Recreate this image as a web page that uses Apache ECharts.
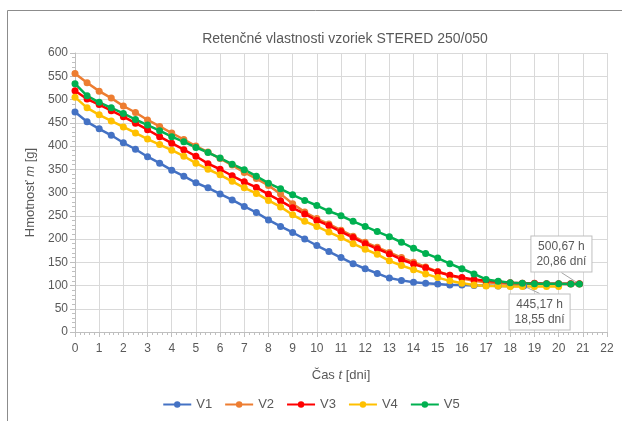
<!DOCTYPE html>
<html>
<head>
<meta charset="utf-8">
<script src="https://cdn.jsdelivr.net/npm/echarts@6/dist/echarts.min.js"></script>
<style>
	html, body { margin: 0; padding: 0; background: #fff; }
	#graf { width: 622px; height: 421px; }
</style>
</head>
<body>
<div id="graf"></div>
<script>
// cas v dnoch (meranie kazdych ~12 h)
var cas = [0, 0.5, 1, 1.5, 2, 2.5, 3, 3.5, 4, 4.5, 5, 5.5, 6, 6.5, 7, 7.5, 8, 8.5, 9, 9.5,
	10, 10.5, 11, 11.5, 12, 12.5, 13, 13.5, 14, 14.5, 15, 15.5, 16, 16.5, 17, 17.5, 18, 18.5,
	19, 19.5, 20, 20.5, 20.86];
var casV1 = [0, 0.5, 1, 1.5, 2, 2.5, 3, 3.5, 4, 4.5, 5, 5.5, 6, 6.5, 7, 7.5, 8, 8.5, 9, 9.5,
	10, 10.5, 11, 11.5, 12, 12.5, 13, 13.5, 14, 14.5, 15, 15.5, 16, 16.5, 17, 17.5, 18, 18.55];

// hmotnost vzoriek [g]
var v1 = [473, 452, 437, 423, 407, 393, 377, 363, 348, 335, 321, 310, 297, 284, 270, 257, 241, 227, 214, 200,
	186, 173, 160, 147, 136, 126, 116, 111, 107, 105, 103, 101, 101, 100, 100, 99, 99, 99];
var v2 = [556, 536, 518, 503, 486, 472, 456, 442, 428, 414, 400, 387, 373, 359, 343, 330, 315, 297, 276, 258,
	244, 232, 219, 206, 193, 182, 171, 160, 150, 140, 130, 122, 115, 110, 107, 105, 104, 104, 104, 103,
	103, 103, 103];
var v3 = [519, 501, 489, 476, 463, 449, 435, 420, 406, 392, 378, 362, 350, 336, 323, 311, 296, 282, 267, 254,
	240, 229, 216, 203, 190, 179, 168, 156, 146, 138, 129, 122, 117, 113, 110, 108, 106, 105, 105, 104,
	104, 104, 104];
var v4 = [505, 482, 467, 454, 441, 428, 415, 403, 391, 378, 363, 350, 338, 324, 310, 298, 283, 269, 252, 238,
	227, 215, 203, 190, 178, 167, 153, 143, 134, 125, 117, 110, 105, 101, 99, 99, 98, 98, 98, 98, 98];
var v5 = [534, 508, 494, 482, 470, 457, 445, 433, 420, 409, 397, 386, 374, 361, 349, 335, 320, 308, 295, 283,
	272, 260, 250, 238, 227, 216, 205, 193, 180, 169, 159, 147, 136, 125, 113, 109, 106, 105, 104, 104,
	104, 103, 103];

var nazvy = ['V1', 'V2', 'V3', 'V4', 'V5'];
var farby = ['#4472C4', '#ED7D31', '#FF0000', '#FFC000', '#00B050'];
var popisV1 = '445,17 h\n18,55 dní';
var popisV5 = '500,67 h\n20,86 dní';

var pismo = 'Liberation Sans, Arial, sans-serif';
var sedaText = '#595959';

function pary(t, v) {
	var out = [];
	for (var i = 0; i < v.length; i++) {
		out.push([t[i], v[i]]);
	}
	return out;
}

// popis posledneho bodu (ramcek s ciarou)
function popisany(data, text, pozicia) {
	var last = data.length - 1;
	data[last] = {
		value: data[last],
		label: {
			show: true,
			position: pozicia,
			formatter: text,
			color: sedaText,
			fontFamily: pismo,
			fontSize: 12,
			lineHeight: 15,
			align: 'center',
			backgroundColor: '#fff',
			borderColor: '#bfbfbf',
			borderWidth: 1,
			padding: [3, 5, 2, 5]
		},
		labelLine: {
			show: true,
			lineStyle: { color: '#a6a6a6', width: 1 }
		}
	};
	return data;
}

var d1 = popisany(pary(casV1, v1), popisV1, 'bottom');
var d5 = popisany(pary(cas, v5), popisV5, 'top');
var vsetky = [d1, pary(cas, v2), pary(cas, v3), pary(cas, v4), d5];

var series = [];
for (var i = 0; i < nazvy.length; i++) {
	var s = {
		name: nazvy[i],
		type: 'line',
		data: vsetky[i],
		symbol: 'circle',
		symbolSize: 7,
		color: farby[i],
		lineStyle: { width: 2.5 },
		label: { show: false },
		animation: false
	};
	if (i == 0) s.labelLayout = { dx: 16, dy: 0 };
	if (i == 4) s.labelLayout = { dx: -18, dy: -4 };
	series.push(s);
}

var myChart = echarts.init(document.getElementById('graf'));
var option = {
	backgroundColor: '#fff',
	animation: false,
	textStyle: { fontFamily: pismo },
	title: {
		text: 'Retenčné vlastnosti vzoriek STERED 250/050',
		left: 340,
		top: 27,
		textAlign: 'center',
		textStyle: { color: sedaText, fontSize: 14, fontWeight: 'normal', fontFamily: pismo }
	},
	graphic: [{
		type: 'rect',
		shape: { x: 7.5, y: 10.5, width: 700, height: 500 },
		style: { fill: 'none', stroke: '#8c8c8c', lineWidth: 1 },
		silent: true
	}],
	grid: { left: 75, right: 15, top: 53, bottom: 89 },
	legend: {
		data: nazvy,
		bottom: 5,
		left: 'center',
		itemWidth: 28,
		itemHeight: 8,
		itemGap: 12,
		textStyle: { color: sedaText, fontSize: 13, fontFamily: pismo }
	},
	xAxis: {
		type: 'value',
		min: 0,
		max: 22,
		interval: 1,
		name: '{n|Čas }{i|t}{n| [dni]}',
		nameLocation: 'middle',
		nameGap: 37,
		nameTextStyle: {
			rich: {
				n: { color: sedaText, fontSize: 13, fontFamily: pismo },
				i: { color: sedaText, fontSize: 13, fontFamily: pismo, fontStyle: 'italic' }
			}
		},
		axisLine: { lineStyle: { color: '#bfbfbf' } },
		axisTick: { show: true, length: 5, lineStyle: { color: '#bfbfbf' } },
		minorTick: { show: true, splitNumber: 5, length: 3, lineStyle: { color: '#bfbfbf' } },
		axisLabel: { color: sedaText, fontSize: 12, margin: 11 },
		splitLine: { show: true, lineStyle: { color: '#d9d9d9' } }
	},
	yAxis: {
		type: 'value',
		min: 0,
		max: 600,
		interval: 50,
		name: '{n|Hmotnosť }{i|m}{n| [g]}',
		nameLocation: 'middle',
		nameGap: 37,
		nameRotate: 90,
		nameTextStyle: {
			rich: {
				n: { color: sedaText, fontSize: 13, fontFamily: pismo },
				i: { color: sedaText, fontSize: 13, fontFamily: pismo, fontStyle: 'italic' }
			}
		},
		axisLine: { show: true, lineStyle: { color: '#bfbfbf' } },
		axisTick: { show: true, length: 5, lineStyle: { color: '#bfbfbf' } },
		minorTick: { show: true, splitNumber: 5, length: 3, lineStyle: { color: '#bfbfbf' } },
		axisLabel: { color: sedaText, fontSize: 12, margin: 7 },
		splitLine: { show: true, lineStyle: { color: '#d9d9d9' } }
	},
	series: series
};
myChart.setOption(option);
</script>
</body>
</html>
